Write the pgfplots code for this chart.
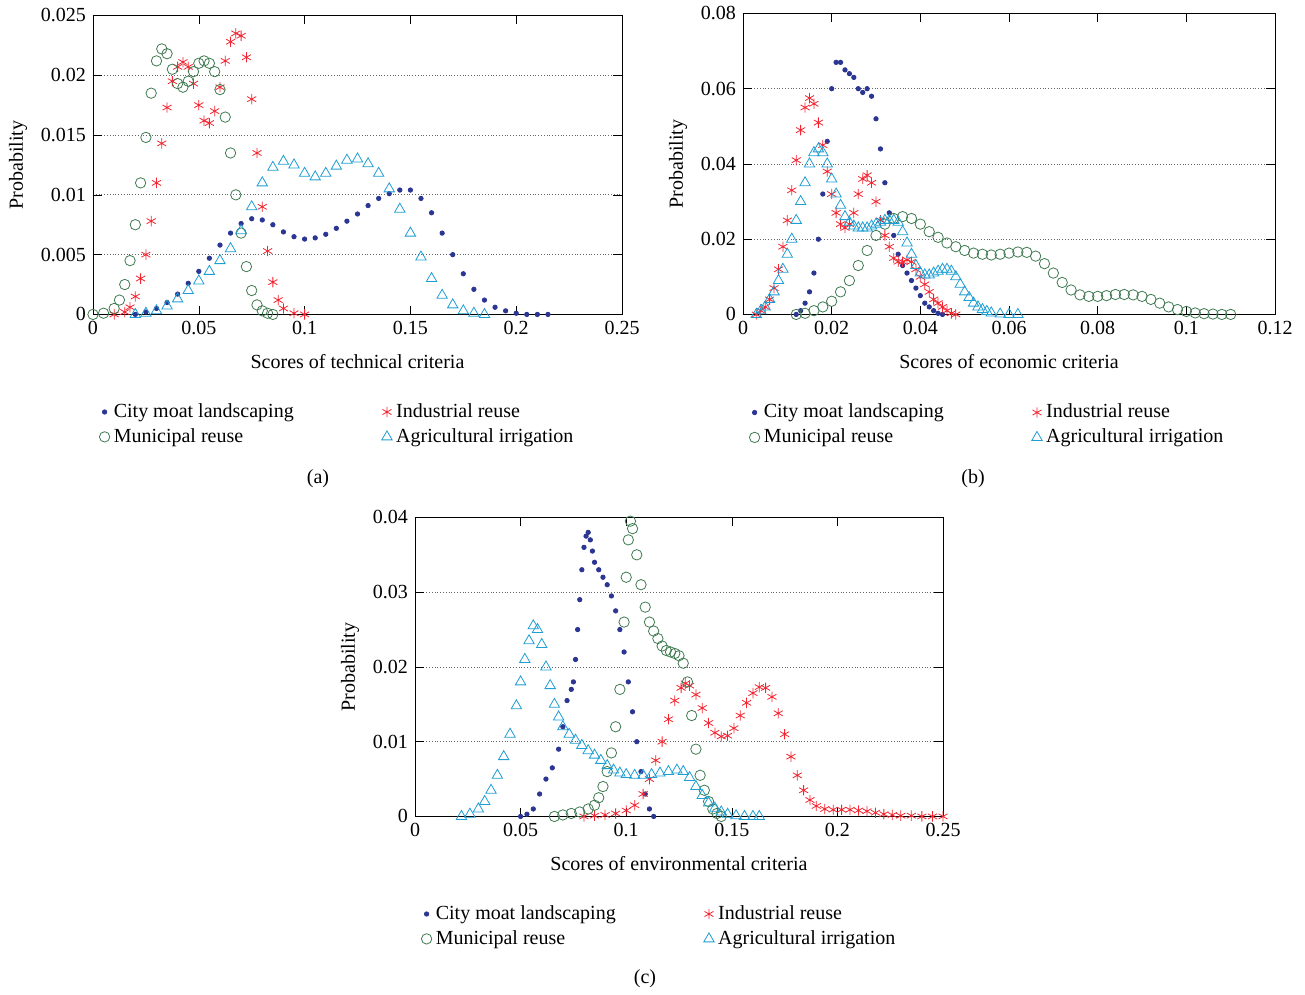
\documentclass[border=0pt]{standalone}
\usepackage{fontspec}
\setmainfont{Liberation Serif}
\usepackage{pgfplots}
\pgfplotsset{compat=1.18}
\definecolor{cblue}{HTML}{2B3592}
\definecolor{cgreen}{HTML}{3F7A50}
\definecolor{cred}{HTML}{F42430}
\definecolor{ccyan}{HTML}{1E9ED2}
\pgfplotsset{
  every axis/.append style={scale only axis, clip=false,
    /pgf/number format/assume math mode=true, scaled ticks=false,
    /pgf/number format/fixed, /pgf/number format/precision=3,
    ymajorgrids, grid style={densely dotted, black!60},
    tick style={black}, tick align=inside,
    tick label style={font=\normalsize},
    label style={font=\normalsize},
    xlabel style={yshift=-3pt},
    legend style={draw=none, fill=none, font=\normalsize, legend columns=2,
      /tikz/every even column/.append style={column sep=42pt}},
    legend cell align=left},
  sb/.style={only marks, mark=*, mark size=1.1pt, color=cblue},
  sg/.style={only marks, mark=o, mark size=2.6pt, color=cgreen, thin},
  sr/.style={only marks, mark=asterisk, mark size=2.6pt, color=cred, thin},
  sc/.style={only marks, mark=triangle, mark size=3pt, color=ccyan, thin},
}
\begin{document}
\begin{tikzpicture}[x=1pt,y=1pt]
\path (0,0) rectangle (652.5,495.5);
% (a)
\begin{axis}[at={(46.5pt,339pt)}, width=264.5pt, height=149.5pt,
  xmin=0, xmax=0.25, ymin=0, ymax=0.025,
  xtick={0,0.05,0.1,0.15,0.2,0.25}, ytick={0,0.005,0.01,0.015,0.02,0.025},
  xticklabels={0,0.05,0.1,0.15,0.2,0.25}, yticklabels={0,0.005,0.01,0.015,0.02,0.025},
  xlabel={Scores of technical criteria}, ylabel={Probability},
  legend style={at={(0,-0.27)}, anchor=north west}]
\addplot[sb] coordinates {(0.02,0) (0.025,0.0002) (0.03,0.0005) (0.035,0.001) (0.04,0.0017) (0.045,0.0026) (0.05,0.0036) (0.055,0.0047) (0.06,0.0058) (0.065,0.0068) (0.07,0.0076) (0.075,0.0080) (0.08,0.0079) (0.085,0.0075) (0.09,0.0069) (0.095,0.0065) (0.1,0.0063) (0.105,0.0064) (0.11,0.0067) (0.115,0.0072) (0.12,0.0078) (0.125,0.0084) (0.13,0.0091) (0.135,0.0097) (0.14,0.0101) (0.145,0.0104) (0.15,0.0104) (0.155,0.0097) (0.16,0.0085) (0.165,0.0068) (0.17,0.005) (0.175,0.0034) (0.18,0.0021) (0.185,0.0012) (0.19,0.0006) (0.195,0.0003) (0.2,0.0001) (0.205,0) (0.21,0) (0.215,0)};
\addlegendentry{City moat landscaping}
\addplot[sr] coordinates {(0.01,0) (0.015,0.0002) (0.0175,0.0006) (0.02,0.0015) (0.0225,0.003) (0.025,0.005) (0.0275,0.0078) (0.03,0.011) (0.0325,0.0143) (0.035,0.0173) (0.0375,0.0195) (0.04,0.0207) (0.0425,0.0211) (0.045,0.0207) (0.0475,0.0193) (0.05,0.0175) (0.0525,0.0162) (0.055,0.016) (0.0575,0.017) (0.06,0.019) (0.0625,0.0212) (0.065,0.0228) (0.0675,0.0235) (0.07,0.0233) (0.0725,0.0215) (0.075,0.018) (0.0775,0.0135) (0.08,0.009) (0.0825,0.0053) (0.085,0.0027) (0.0875,0.0012) (0.09,0.0005) (0.095,0.0001) (0.1,0)};
\addlegendentry{Industrial reuse}
\addplot[sg] coordinates {(0,0) (0.005,0.0001) (0.01,0.0005) (0.0125,0.0012) (0.015,0.0025) (0.0175,0.0045) (0.02,0.0075) (0.0225,0.011) (0.025,0.0148) (0.0275,0.0185) (0.03,0.0212) (0.0325,0.0222) (0.035,0.0218) (0.0375,0.0205) (0.04,0.0193) (0.0425,0.019) (0.045,0.0195) (0.0475,0.0203) (0.05,0.021) (0.0525,0.0212) (0.055,0.021) (0.0575,0.0203) (0.06,0.0188) (0.0625,0.0165) (0.065,0.0135) (0.0675,0.010) (0.07,0.0068) (0.0725,0.004) (0.075,0.002) (0.0775,0.0008) (0.08,0.0003) (0.0825,0.0001) (0.085,0)};
\addlegendentry{Municipal reuse}
\addplot[sc] coordinates {(0.02,0) (0.025,0.0001) (0.03,0.0003) (0.035,0.0007) (0.04,0.0013) (0.045,0.002) (0.05,0.0028) (0.055,0.0036) (0.06,0.0045) (0.065,0.0055) (0.07,0.007) (0.075,0.009) (0.08,0.011) (0.085,0.0123) (0.09,0.0128) (0.095,0.0125) (0.1,0.0118) (0.105,0.0115) (0.11,0.0118) (0.115,0.0124) (0.12,0.0129) (0.125,0.013) (0.13,0.0126) (0.135,0.0118) (0.14,0.0105) (0.145,0.0088) (0.15,0.0068) (0.155,0.0048) (0.16,0.003) (0.165,0.0016) (0.17,0.0008) (0.175,0.0003) (0.18,0.0001) (0.185,0)};
\addlegendentry{Agricultural irrigation}
\end{axis}
% (b)
\begin{axis}[at={(371.5pt,339pt)}, width=266pt, height=150.5pt,
  xmin=0, xmax=0.12, ymin=0, ymax=0.08,
  xtick={0,0.02,0.04,0.06,0.08,0.1,0.12}, ytick={0,0.02,0.04,0.06,0.08},
  xticklabels={0,0.02,0.04,0.06,0.08,0.1,0.12}, yticklabels={0,0.02,0.04,0.06,0.08},
  xlabel={Scores of economic criteria}, ylabel={Probability},
  legend style={at={(0,-0.27)}, anchor=north west}]
\addplot[sb] coordinates {(0.012,0) (0.013,0.001) (0.014,0.003) (0.015,0.006) (0.016,0.011) (0.017,0.02) (0.018,0.032) (0.019,0.046) (0.02,0.06) (0.021,0.067) (0.022,0.067) (0.023,0.065) (0.024,0.064) (0.025,0.063) (0.026,0.06) (0.027,0.059) (0.028,0.06) (0.029,0.058) (0.03,0.052) (0.031,0.044) (0.032,0.035) (0.033,0.027) (0.034,0.021) (0.035,0.016) (0.036,0.013) (0.037,0.011) (0.038,0.009) (0.039,0.007) (0.04,0.005) (0.041,0.003) (0.042,0.002) (0.043,0.001) (0.044,0.0003) (0.045,0)};
\addlegendentry{City moat landscaping}
\addplot[sr] coordinates {(0.003,0) (0.004,0.001) (0.005,0.002) (0.006,0.004) (0.007,0.007) (0.008,0.012) (0.009,0.018) (0.01,0.025) (0.011,0.033) (0.012,0.041) (0.013,0.049) (0.014,0.055) (0.015,0.0575) (0.016,0.056) (0.017,0.051) (0.018,0.045) (0.019,0.038) (0.02,0.032) (0.021,0.027) (0.022,0.024) (0.023,0.023) (0.024,0.024) (0.025,0.027) (0.026,0.032) (0.027,0.036) (0.028,0.037) (0.029,0.035) (0.03,0.03) (0.031,0.025) (0.032,0.021) (0.033,0.018) (0.034,0.015) (0.035,0.014) (0.036,0.014) (0.037,0.0145) (0.038,0.014) (0.039,0.012) (0.04,0.01) (0.041,0.008) (0.042,0.006) (0.043,0.004) (0.044,0.003) (0.045,0.002) (0.046,0.001) (0.047,0.0003) (0.048,0)};
\addlegendentry{Industrial reuse}
\addplot[sg] coordinates {(0.012,0) (0.014,0.0003) (0.016,0.001) (0.018,0.002) (0.02,0.0035) (0.022,0.006) (0.024,0.009) (0.026,0.013) (0.028,0.017) (0.03,0.021) (0.032,0.024) (0.034,0.0255) (0.036,0.026) (0.038,0.0255) (0.04,0.024) (0.042,0.022) (0.044,0.0205) (0.046,0.019) (0.048,0.018) (0.05,0.017) (0.052,0.0163) (0.054,0.016) (0.056,0.0158) (0.058,0.016) (0.06,0.0163) (0.062,0.0166) (0.064,0.0165) (0.066,0.0155) (0.068,0.0135) (0.07,0.011) (0.072,0.0085) (0.074,0.0065) (0.076,0.0052) (0.078,0.0048) (0.08,0.0048) (0.082,0.005) (0.084,0.0053) (0.086,0.0053) (0.088,0.0052) (0.09,0.0048) (0.092,0.004) (0.094,0.003) (0.096,0.002) (0.098,0.0013) (0.1,0.0008) (0.102,0.0004) (0.104,0.0002) (0.106,0.0001) (0.108,0) (0.11,0)};
\addlegendentry{Municipal reuse}
\addplot[sc] coordinates {(0.003,0) (0.004,0.001) (0.005,0.002) (0.006,0.004) (0.007,0.006) (0.008,0.009) (0.009,0.012) (0.01,0.016) (0.011,0.02) (0.012,0.025) (0.013,0.03) (0.014,0.035) (0.015,0.04) (0.016,0.043) (0.017,0.044) (0.018,0.043) (0.019,0.04) (0.02,0.036) (0.021,0.032) (0.022,0.029) (0.023,0.026) (0.024,0.0245) (0.025,0.0235) (0.026,0.023) (0.027,0.023) (0.028,0.023) (0.029,0.0235) (0.03,0.024) (0.031,0.0245) (0.032,0.025) (0.033,0.025) (0.034,0.025) (0.035,0.0245) (0.036,0.022) (0.037,0.019) (0.038,0.016) (0.039,0.013) (0.04,0.011) (0.041,0.0105) (0.042,0.0105) (0.043,0.011) (0.044,0.0115) (0.045,0.012) (0.046,0.012) (0.047,0.0115) (0.048,0.01) (0.049,0.008) (0.05,0.006) (0.051,0.0045) (0.052,0.003) (0.053,0.002) (0.054,0.0013) (0.055,0.0008) (0.056,0.0004) (0.058,0.0001) (0.06,0) (0.062,0)};
\addlegendentry{Agricultural irrigation}
\end{axis}
% (c)
\begin{axis}[at={(207.5pt,88pt)}, width=264pt, height=149.5pt,
  xmin=0, xmax=0.25, ymin=0, ymax=0.04,
  xtick={0,0.05,0.1,0.15,0.2,0.25}, ytick={0,0.01,0.02,0.03,0.04},
  xticklabels={0,0.05,0.1,0.15,0.2,0.25}, yticklabels={0,0.01,0.02,0.03,0.04},
  xlabel={Scores of environmental criteria}, ylabel={Probability},
  legend style={at={(0,-0.27)}, anchor=north west}]
\addplot[sb] coordinates {(0.05,0) (0.053,0.0003) (0.056,0.001) (0.059,0.003) (0.062,0.005) (0.065,0.0065) (0.068,0.009) (0.07,0.012) (0.072,0.0155) (0.074,0.017) (0.075,0.018) (0.076,0.021) (0.077,0.025) (0.078,0.029) (0.079,0.033) (0.08,0.036) (0.081,0.0375) (0.082,0.038) (0.083,0.037) (0.084,0.0355) (0.085,0.034) (0.087,0.033) (0.089,0.032) (0.091,0.031) (0.093,0.0295) (0.095,0.0275) (0.097,0.025) (0.099,0.022) (0.101,0.018) (0.103,0.014) (0.105,0.01) (0.107,0.006) (0.109,0.003) (0.111,0.001) (0.113,0)};
\addlegendentry{City moat landscaping}
\addplot[sr] coordinates {(0.08,0) (0.085,0.0001) (0.09,0.0002) (0.095,0.0004) (0.1,0.0008) (0.104,0.0015) (0.108,0.003) (0.111,0.005) (0.114,0.0075) (0.117,0.01) (0.12,0.013) (0.123,0.0155) (0.126,0.0172) (0.128,0.0178) (0.13,0.0175) (0.133,0.0163) (0.136,0.0145) (0.139,0.0125) (0.142,0.0112) (0.145,0.0107) (0.148,0.0108) (0.151,0.0118) (0.154,0.0135) (0.157,0.0152) (0.16,0.0165) (0.163,0.0173) (0.166,0.0172) (0.169,0.016) (0.172,0.0138) (0.175,0.011) (0.178,0.008) (0.181,0.0055) (0.184,0.0035) (0.187,0.0022) (0.19,0.0014) (0.194,0.001) (0.198,0.0009) (0.202,0.0009) (0.206,0.0009) (0.21,0.0008) (0.214,0.0007) (0.218,0.0005) (0.222,0.0003) (0.226,0.0002) (0.23,0.0001) (0.235,0.0001) (0.24,0) (0.245,0) (0.25,0)};
\addlegendentry{Industrial reuse}
\addplot[sg] coordinates {(0.066,0) (0.07,0.0002) (0.074,0.0004) (0.078,0.0006) (0.082,0.001) (0.085,0.0015) (0.087,0.0025) (0.089,0.004) (0.091,0.006) (0.093,0.0085) (0.095,0.012) (0.097,0.017) (0.099,0.026) (0.1,0.032) (0.101,0.037) (0.102,0.0395) (0.103,0.0385) (0.105,0.035) (0.107,0.031) (0.109,0.028) (0.111,0.026) (0.113,0.0248) (0.115,0.0238) (0.117,0.0228) (0.119,0.0222) (0.121,0.022) (0.123,0.0218) (0.125,0.0215) (0.127,0.0205) (0.129,0.018) (0.131,0.0135) (0.133,0.009) (0.135,0.0055) (0.137,0.0035) (0.139,0.002) (0.141,0.001) (0.143,0.0004) (0.145,0)};
\addlegendentry{Municipal reuse}
\addplot[sc] coordinates {(0.022,0) (0.026,0.0003) (0.03,0.001) (0.033,0.002) (0.036,0.0035) (0.039,0.0055) (0.042,0.008) (0.045,0.011) (0.048,0.0148) (0.05,0.018) (0.052,0.021) (0.054,0.0235) (0.056,0.0255) (0.058,0.025) (0.06,0.023) (0.062,0.02) (0.064,0.0175) (0.066,0.015) (0.068,0.0133) (0.07,0.012) (0.073,0.011) (0.076,0.0102) (0.079,0.0095) (0.082,0.0088) (0.085,0.0082) (0.088,0.0075) (0.091,0.0068) (0.094,0.0062) (0.097,0.0058) (0.1,0.0056) (0.104,0.0055) (0.108,0.0055) (0.112,0.0056) (0.116,0.0058) (0.12,0.006) (0.124,0.0062) (0.127,0.006) (0.13,0.0052) (0.133,0.004) (0.136,0.0028) (0.139,0.0018) (0.142,0.0011) (0.145,0.0006) (0.148,0.0003) (0.152,0.0001) (0.156,0) (0.16,0) (0.163,0)};
\addlegendentry{Agricultural irrigation}
\end{axis}
\node at (159,257) {(a)};
\node at (486.5,257) {(b)};
\node at (322.5,7) {(c)};
\end{tikzpicture}
\end{document}
